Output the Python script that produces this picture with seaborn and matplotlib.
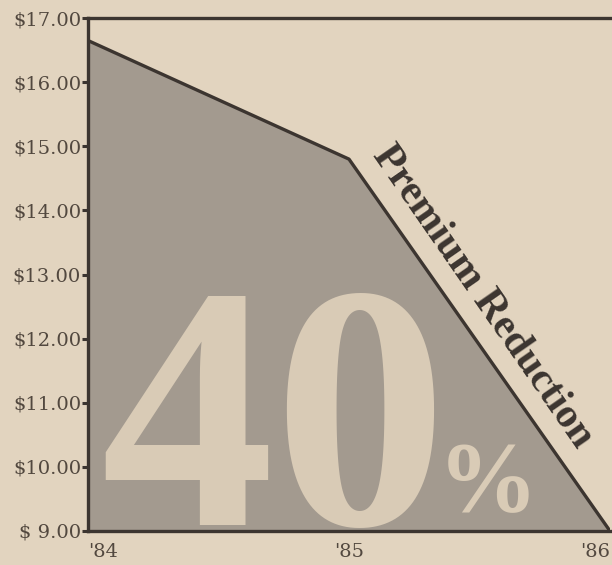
import matplotlib
matplotlib.use("Agg")
import matplotlib.pyplot as plt
import seaborn as sns
import pandas as pd

# ---- data ----
years = [84, 85, 86]
premium = [16.65, 14.80, 9.00]
year_labels = ["'84", "'85", "'86"]
y_ticks = [9, 10, 11, 12, 13, 14, 15, 16, 17]
y_labels = ["$ 9.00", "$10.00", "$11.00", "$12.00", "$13.00",
            "$14.00", "$15.00", "$16.00", "$17.00"]

df = pd.DataFrame({"Year": years, "Premium": premium})

paper = "#e2d4bf"
ink = "#3c3530"
fill_col = "#a39a8f"
big_text = "#d9cbb6"
label_col = "#52483f"

sns.set_theme(style="white")
plt.rcParams["font.family"] = ["Liberation Serif", "DejaVu Serif"]

fig = plt.figure(figsize=(6.12, 5.65), dpi=100, facecolor=paper)
ax = fig.add_axes([0.1438, 0.0602, 0.8529, 0.9078])
ax.set_facecolor(paper)

# shaded area under the premium line
ax.fill_between(df["Year"], df["Premium"], 9, color=fill_col, linewidth=0, zorder=1)
sns.lineplot(data=df, x="Year", y="Premium", color=ink, linewidth=2.4, ax=ax, zorder=4)

ax.set_xlim(84, 86)
ax.set_ylim(9, 17)

# big "40%" knocked out of the shading
ax.text(84.045, 9.09, "40", fontsize=250, fontweight="bold", color=big_text,
        ha="left", va="baseline", zorder=2)
ax.text(85.34, 9.32, "%", fontsize=72, fontweight="bold", color=big_text,
        ha="left", va="baseline", zorder=2)

# label along the falling segment
ax.text(85.513, 12.66, "Premium Reduction", fontsize=30, fontweight="bold", color=ink,
        rotation=-55.2, rotation_mode="anchor", ha="center", va="center", zorder=5)

ax.set_yticks(y_ticks)
ax.set_yticklabels(y_labels, fontsize=14, color=label_col, family="DejaVu Serif")
ax.set_xticks(years)
ax.set_xticklabels(year_labels, fontsize=14, color=label_col, family="DejaVu Serif")
for lab, ha in zip(ax.get_xticklabels(), ["left", "center", "right"]):
    lab.set_ha(ha)
ax.tick_params(axis="y", length=4, width=2.2, color=ink, pad=1, left=True)
ax.tick_params(axis="x", length=0, pad=9)
ax.set_xlabel("")
ax.set_ylabel("")

for side in ["left", "bottom", "top"]:
    ax.spines[side].set_color(ink)
    ax.spines[side].set_linewidth(2.4)
ax.spines["right"].set_visible(False)

fig.savefig("out.png", dpi=100, facecolor=paper)
